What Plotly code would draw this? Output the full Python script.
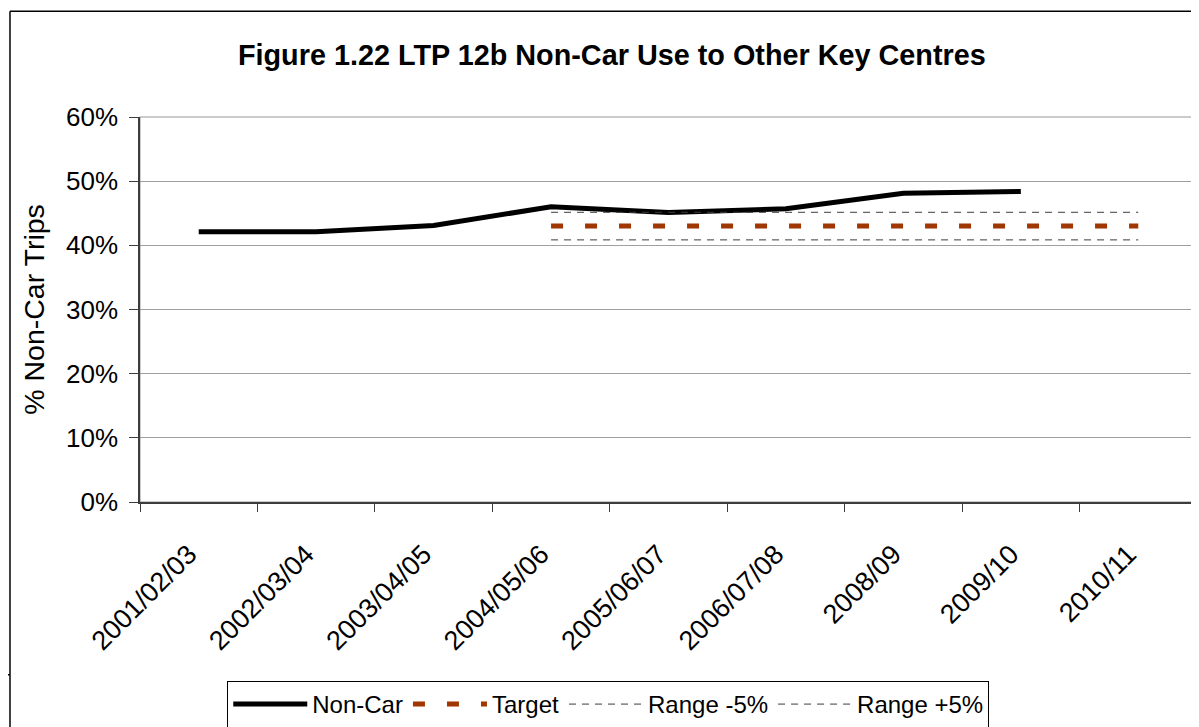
import plotly.graph_objects as go

# data
years = ['2001/02/03', '2002/03/04', '2003/04/05', '2004/05/06', '2005/06/07',
         '2006/07/08', '2008/09', '2009/10', '2010/11']
non_car = [0.421, 0.421, 0.431, 0.460, 0.451, 0.457, 0.481, 0.484, None]
target = [None, None, None, 0.43, 0.43, 0.43, 0.43, 0.43, 0.43]
range_minus = [None, None, None, 0.4085, 0.4085, 0.4085, 0.4085, 0.4085, 0.4085]
range_plus = [None, None, None, 0.4515, 0.4515, 0.4515, 0.4515, 0.4515, 0.4515]

font_family = 'Liberation Sans, Arial, sans-serif'

fig = go.Figure()

fig.add_trace(go.Scatter(
    x=years, y=non_car, name='Non-Car', mode='lines',
    line=dict(color='black', width=5), connectgaps=False
))
fig.add_trace(go.Scatter(
    x=years, y=target, name='Target', mode='lines',
    line=dict(color='rgb(160,55,0)', width=5, dash='12px,22px')
))
fig.add_trace(go.Scatter(
    x=years, y=range_minus, name='Range -5%', mode='lines',
    line=dict(color='rgb(60,60,60)', width=1, dash='7px,6px')
))
fig.add_trace(go.Scatter(
    x=years, y=range_plus, name='Range +5%', mode='lines',
    line=dict(color='rgb(60,60,60)', width=1, dash='7px,6px')
))

# plot area border (grey) and outer chart frame
shapes = [
    dict(type='rect', xref='paper', yref='paper', x0=0, x1=1, y0=0, y1=1,
         line=dict(color='rgb(150,150,150)', width=1), layer='below'),
    dict(type='line', xref='paper', yref='paper', x0=-0.123, x1=1.2, y0=1.275, y1=1.275,
         line=dict(color='black', width=1.5)),
    dict(type='line', xref='paper', yref='paper', x0=-0.123, x1=-0.123, y0=1.275, y1=-0.7,
         line=dict(color='black', width=1.5)),
    dict(type='line', xref='paper', yref='paper', x0=-0.14, x1=-0.123, y0=-0.449, y1=-0.449,
         line=dict(color='black', width=1.5)),
]

# page body has an 8px margin, so the figure is 8px smaller each way
fig.update_layout(
    width=1191, height=719,
    margin=dict(l=132, r=2, t=109, b=225),
    plot_bgcolor='white', paper_bgcolor='white',
    font=dict(family=font_family, color='black'),
    title=dict(
        text='<b>Figure 1.22 LTP 12b Non-Car Use to Other Key Centres</b>',
        x=0.507, xanchor='center', y=0.935, yanchor='middle',
        font=dict(size=28.8, family=font_family, color='black')
    ),
    showlegend=True,
    legend=dict(
        orientation='h', xref='container', yref='container',
        x=0.504, xanchor='center', y=0.064, yanchor='top',
        bordercolor='black', borderwidth=1,
        font=dict(size=24, family=font_family), tracegroupgap=0,
        itemwidth=74
    ),
    shapes=shapes
)

fig.update_yaxes(
    range=[0, 0.6], dtick=0.1, tickformat='.0%', automargin=False,
    showgrid=True, gridcolor='rgb(160,160,160)', gridwidth=1,
    showline=True, linecolor='rgb(60,60,60)', linewidth=1.5,
    ticks='outside', ticklen=9, tickcolor='rgb(60,60,60)',
    tickfont=dict(size=26), zeroline=False, ticklabelstandoff=6,
    title=dict(text='% Non-Car Trips', font=dict(size=28.5), standoff=13)
)
fig.update_xaxes(
    type='category', range=[-0.5, 8.5], automargin=False,
    tickangle=-45, tickson='boundaries', ticklabelstandoff=24, ticklabelshift=-10,
    showgrid=False, showline=True, linecolor='rgb(60,60,60)', linewidth=1.5,
    ticks='outside', ticklen=8, tickcolor='rgb(60,60,60)',
    tickfont=dict(size=27)
)

fig.write_html('out.html')
